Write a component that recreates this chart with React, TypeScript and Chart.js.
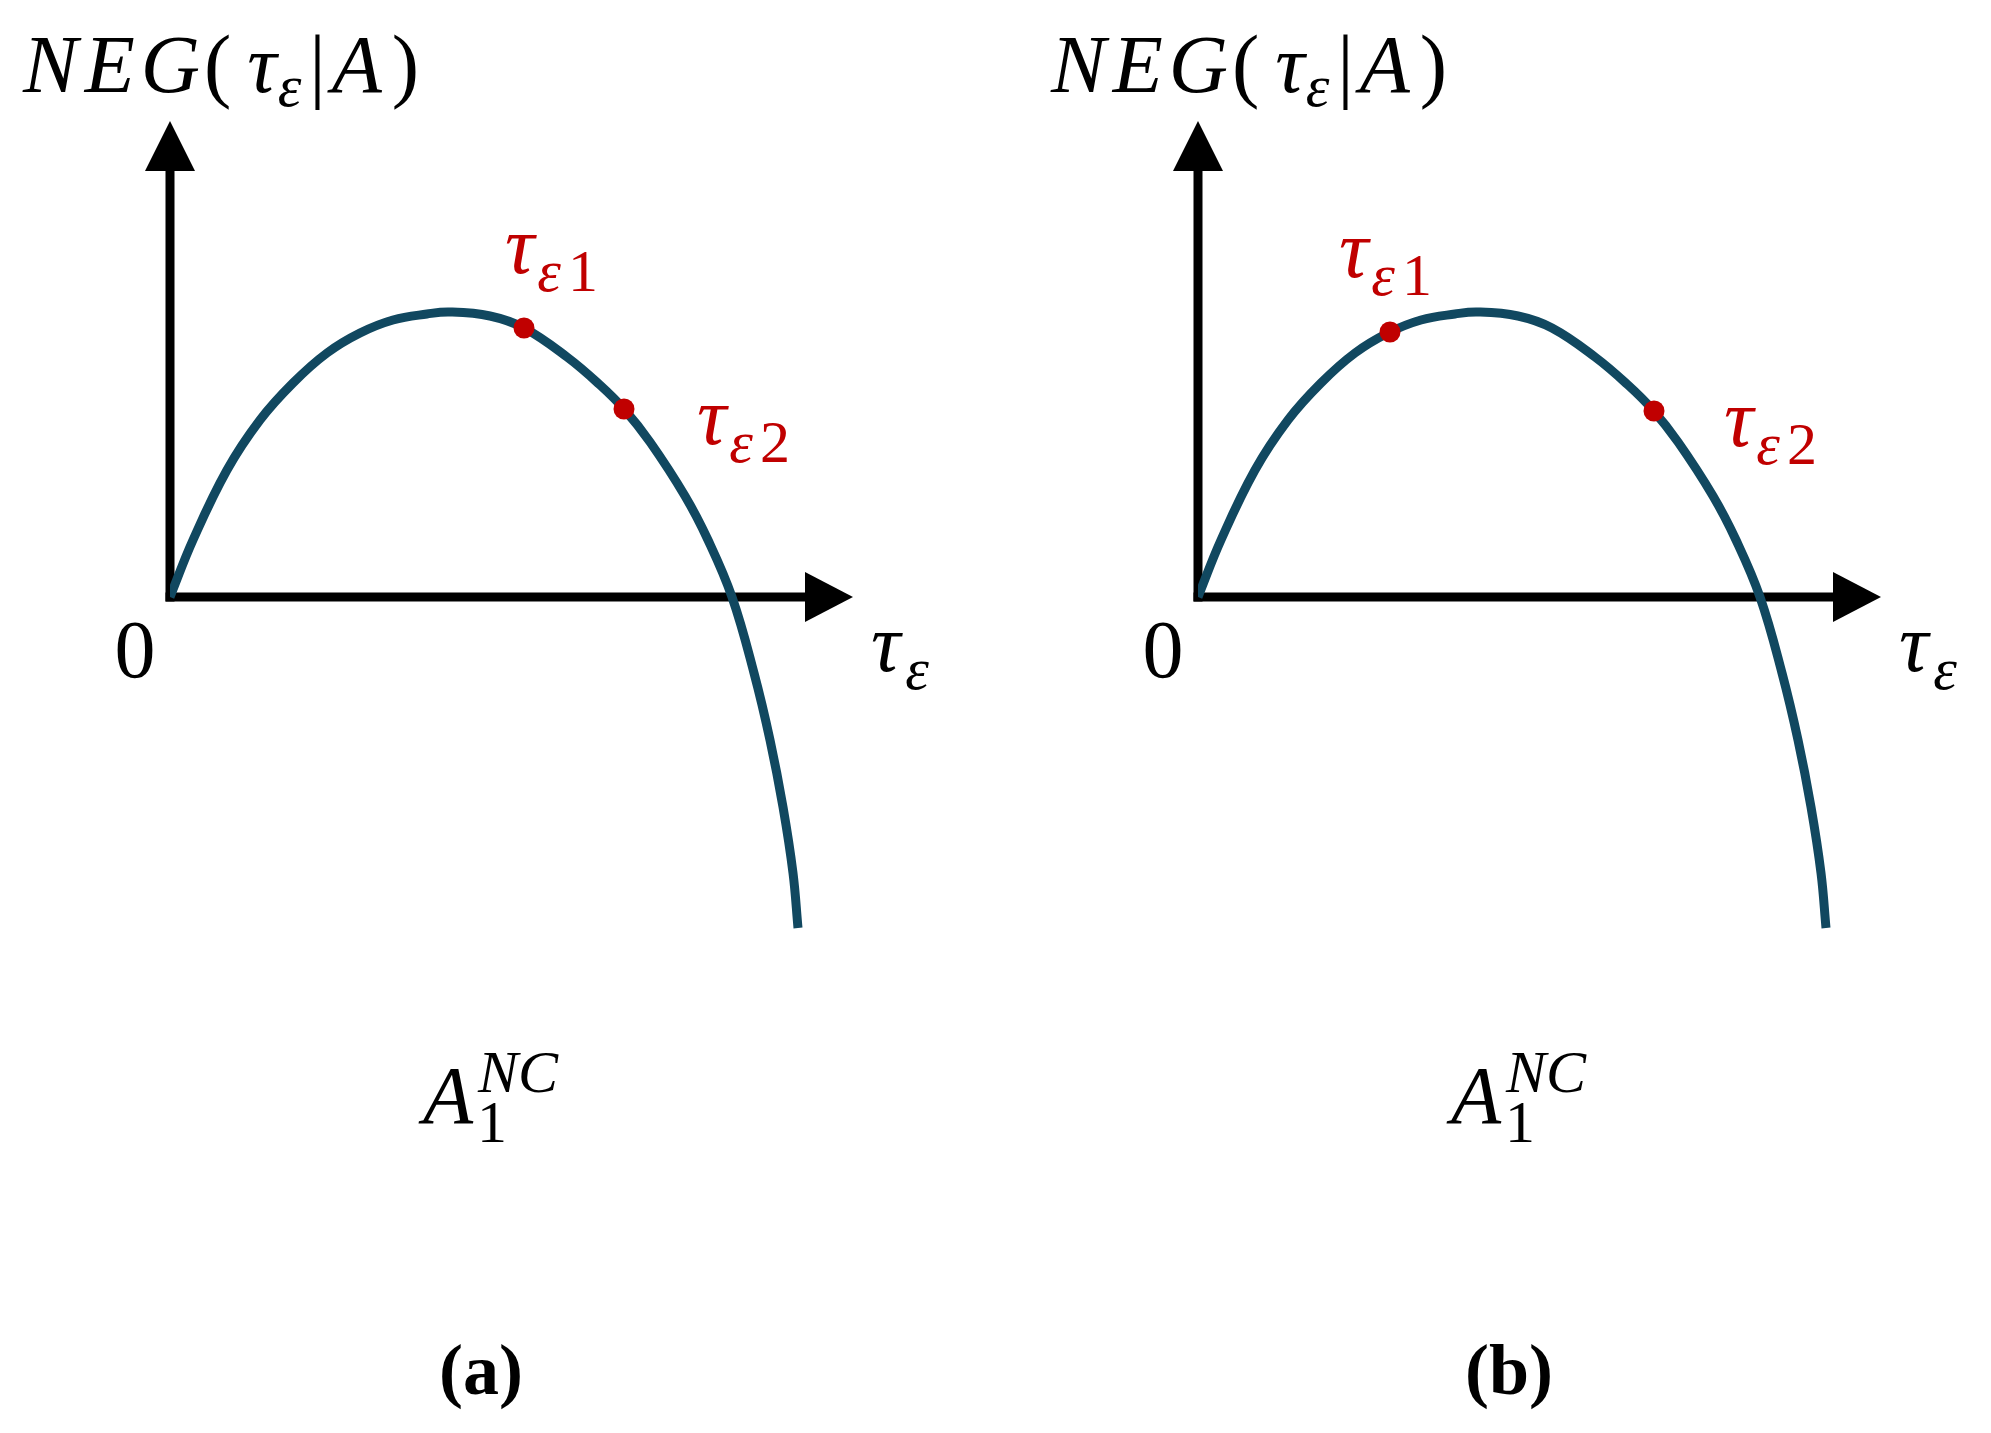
import React, { useEffect, useRef } from "react";
import Chart from "chart.js/auto";

// ---- data (tau_eps, NEG) ----
const tauSamples = [0, 0.23, 0.57, 0.9, 1.23, 1.57, 1.9, 2.23, 2.57, 2.8, 3.2, 3.54, 3.97, 4.3, 4.54, 4.8, 5.15, 5.38, 5.62, 5.84, 6.0, 6.13, 6.23, 6.28];
const negSamples = [0, 0.57, 1.27, 1.77, 2.14, 2.44, 2.64, 2.77, 2.83, 2.85, 2.81, 2.69, 2.4, 2.12, 1.88, 1.55, 1.01, 0.57, 0, -0.76, -1.43, -2.1, -2.76, -3.31];

const pointTauA = [3.54, 4.54];
const pointNegA = [2.69, 1.88];
const pointTauB = [1.92, 4.56];
const pointNegB = [2.65, 1.86];

const pointLabels = ["1", "2"];
const panelLabels = ["(a)", "(b)"];

const X_MAX = 6.83;
const Y_MAX = 4.76;
const Y_MIN = -3.5;

const CURVE_COLOR = "#114860";
const RED = "#C00000";
const FAM = "'Liberation Serif', 'Times New Roman', serif";
const MAIN = 82;
const SUB = 60;

type Run = { t: string; size: number; italic?: boolean; bold?: boolean; gap?: number; dy?: number };

function drawRuns(ctx: CanvasRenderingContext2D, x: number, y: number, runs: Run[]) {
  let cx = x;
  for (const r of runs) {
    ctx.font = `${r.italic ? "italic " : ""}${r.bold ? "bold " : ""}${r.size}px ${FAM}`;
    cx += r.gap || 0;
    ctx.fillText(r.t, cx, y + (r.dy || 0));
    cx += ctx.measureText(r.t).width;
  }
  return cx;
}

const diagramPlugin = {
  id: "diagram",
  beforeDatasetsDraw(chart: any) {
    const ctx: CanvasRenderingContext2D = chart.ctx;
    const { right, top } = chart.chartArea;
    const x0 = chart.scales.x.getPixelForValue(0);
    const y0 = chart.scales.y.getPixelForValue(0);
    ctx.save();
    ctx.fillStyle = "#000";
    ctx.fillRect(x0 - 4.5, top + 48, 9, y0 + 4.5 - (top + 48));
    ctx.beginPath();
    ctx.moveTo(x0, top);
    ctx.lineTo(x0 - 25, top + 50);
    ctx.lineTo(x0 + 25, top + 50);
    ctx.closePath();
    ctx.fill();
    ctx.fillRect(x0 - 4.5, y0 - 4.5, right - 46 - (x0 - 4.5), 9);
    ctx.beginPath();
    ctx.moveTo(right, y0);
    ctx.lineTo(right - 48, y0 - 25);
    ctx.lineTo(right - 48, y0 + 25);
    ctx.closePath();
    ctx.fill();
    ctx.restore();
  },
  afterDatasetsDraw(chart: any, _args: any, opts: any) {
    const ctx: CanvasRenderingContext2D = chart.ctx;
    const { right } = chart.chartArea;
    const x0 = chart.scales.x.getPixelForValue(0);
    const y0 = chart.scales.y.getPixelForValue(0);
    ctx.save();
    ctx.textBaseline = "alphabetic";
    ctx.textAlign = "left";
    ctx.fillStyle = "#000";

    // y-axis title NEG(τε|A)
    drawRuns(ctx, x0 - 147, 92, [
      { t: "N", size: MAIN, italic: true },
      { t: "E", size: MAIN, italic: true, gap: 7 },
      { t: "G", size: MAIN, italic: true, gap: 6 },
      { t: "(", size: MAIN, gap: 4 },
      { t: "τ", size: MAIN, italic: true, gap: 16 },
      { t: "ε", size: SUB, italic: true, gap: 1, dy: 14 },
      { t: "|", size: MAIN, gap: 8 },
      { t: "A", size: MAIN, italic: true, gap: 6 },
      { t: ")", size: MAIN, gap: 10 },
    ]);

    // origin
    ctx.textAlign = "center";
    ctx.font = `${MAIN}px ${FAM}`;
    ctx.fillText("0", x0 - 35, y0 + 80);
    ctx.textAlign = "left";

    // x-axis label τε
    drawRuns(ctx, right + 18, y0 + 74, [
      { t: "τ", size: MAIN, italic: true },
      { t: "ε", size: SUB, italic: true, gap: 5, dy: 18 },
    ]);

    // red point labels
    ctx.fillStyle = RED;
    const meta = chart.getDatasetMeta(0);
    const offs = opts.labelOffsets || [];
    meta.data.forEach((el: any, i: number) => {
      const o = offs[i] || { dx: 0, dy: 0 };
      drawRuns(ctx, el.x + o.dx, el.y + o.dy, [
        { t: "τ", size: MAIN, italic: true },
        { t: "ε", size: SUB, italic: true, gap: 3, dy: 18 },
        { t: pointLabels[i], size: SUB, gap: 7, dy: 18 },
      ]);
    });

    // A_1^{NC}
    ctx.fillStyle = "#000";
    const ax = x0 + 253;
    const ay = 1123;
    const afterA = drawRuns(ctx, ax, ay, [{ t: "A", size: MAIN, italic: true }]);
    drawRuns(ctx, afterA + 4, ay + 19, [{ t: "1", size: SUB }]);
    drawRuns(ctx, afterA + 5, ay - 31, [{ t: "NC", size: SUB, italic: true }]);

    // panel label
    ctx.textAlign = "center";
    ctx.font = `bold 72px ${FAM}`;
    ctx.fillText(opts.panelLabel, x0 + 311, 1394);
    ctx.restore();
  },
};

function Panel(props: { left: number; width: number; tau: number[]; neg: number[]; panelLabel: string; labelOffsets: { dx: number; dy: number }[] }) {
  const ref = useRef<HTMLCanvasElement | null>(null);
  useEffect(() => {
    if (!ref.current) return;
    const curve = tauSamples.map((t, i) => ({ x: t, y: negSamples[i] }));
    const pts = props.tau.map((t, i) => ({ x: t, y: props.neg[i] }));
    const chart = new Chart(ref.current, {
      type: "line",
      data: {
        datasets: [
          {
            type: "scatter",
            data: pts,
            pointRadius: 10.5,
            pointBackgroundColor: RED,
            pointBorderWidth: 0,
            showLine: false,
            order: 0,
          } as any,
          {
            data: curve,
            borderColor: CURVE_COLOR,
            borderWidth: 9,
            pointRadius: 0,
            tension: 0.4,
            borderCapStyle: "butt",
            fill: false,
            order: 1,
          },
        ],
      },
      options: {
        responsive: false,
        animation: false,
        devicePixelRatio: 1,
        layout: { padding: { left: 170, right: props.width - 853, top: 121, bottom: 1433 - 947 } },
        scales: {
          x: { type: "linear", min: 0, max: X_MAX, display: false },
          y: { type: "linear", min: Y_MIN, max: Y_MAX, display: false },
        },
        plugins: {
          legend: { display: false },
          tooltip: { enabled: false },
          diagram: { panelLabel: props.panelLabel, labelOffsets: props.labelOffsets },
        } as any,
      },
      plugins: [diagramPlugin],
    });
    return () => chart.destroy();
  }, []);
  return (
    <canvas
      ref={ref}
      width={props.width}
      height={1433}
      style={{ position: "absolute", left: props.left, top: 0, width: props.width, height: 1433 }}
    />
  );
}

export default function App() {
  return (
    <div style={{ position: "absolute", left: 0, top: 0, width: 1991, height: 1433, background: "#fff", overflow: "hidden" }}>
      <Panel
        left={0}
        width={1028}
        tau={pointTauA}
        neg={pointNegA}
        panelLabel={panelLabels[0]}
        labelOffsets={[{ dx: -19, dy: -55 }, { dx: 73, dy: 35 }]}
      />
      <Panel
        left={1028}
        width={963}
        tau={pointTauB}
        neg={pointNegB}
        panelLabel={panelLabels[1]}
        labelOffsets={[{ dx: -51, dy: -55 }, { dx: 70, dy: 35 }]}
      />
    </div>
  );
}
